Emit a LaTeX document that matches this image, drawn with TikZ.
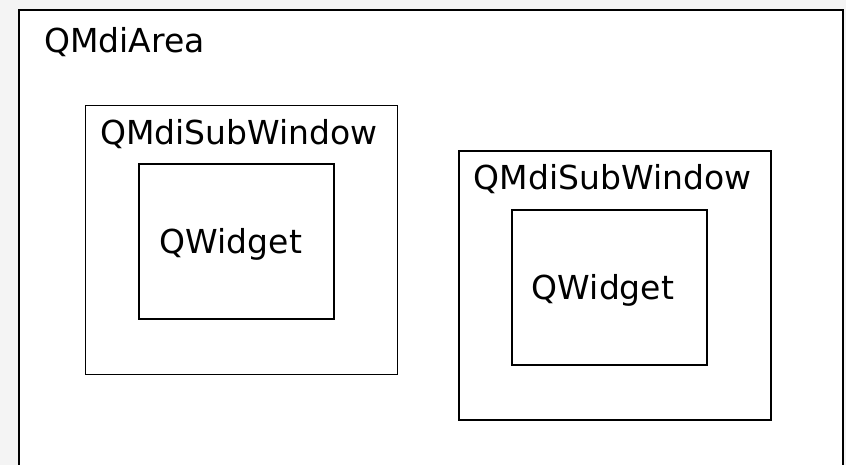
\documentclass[tikz,border=0pt]{standalone}
\usepackage{fontspec}
\setmainfont{DejaVu Sans}
\usetikzlibrary{positioning}
\definecolor{bggray}{HTML}{F4F4F4}
\definecolor{ink}{HTML}{000000}
\tikzset{
  areabox/.style={draw=ink,fill=white,line width=2pt,inner sep=0pt,anchor=north west,minimum width=824pt,minimum height=470pt},
  subbox/.style={draw=ink,fill=white,line width=1.6pt,inner sep=0pt,anchor=north west,minimum width=312pt,minimum height=269pt},
  widgetbox/.style={draw=ink,fill=white,line width=1.6pt,inner sep=0pt,minimum width=195pt,minimum height=155pt},
  wintext/.style={font=\fontsize{33}{39}\selectfont,text=ink,inner sep=0pt,anchor=base}
}
\begin{document}
\begin{tikzpicture}[x=1pt,y=-1pt]
\path[use as bounding box,fill=bggray] (0,0) rectangle (846,465);
% mdi area
\node[areabox] (area) at (18,9) {};
\node[wintext,anchor=base west] (areatext) at (44,53) {QMdiArea};
% first sub window
\node[subbox] (sub1) at (84.7,104.7) {};
\node[wintext] (subtext1) at (239,145) {QMdiSubWindow};
\node[widgetbox,below right=58.6pt and 53.6pt of sub1.north west] (widget1) {};
\node[wintext] (wtext1) at (231,254) {QWidget};
% second sub window
\node[subbox] (sub2) at (458.3,150) {};
\node[wintext] (subtext2) at (612.5,190) {QMdiSubWindow};
\node[widgetbox,below right=59pt and 52.7pt of sub2.north west] (widget2) {};
\node[wintext] (wtext2) at (603,299.5) {QWidget};
\end{tikzpicture}
\end{document}
